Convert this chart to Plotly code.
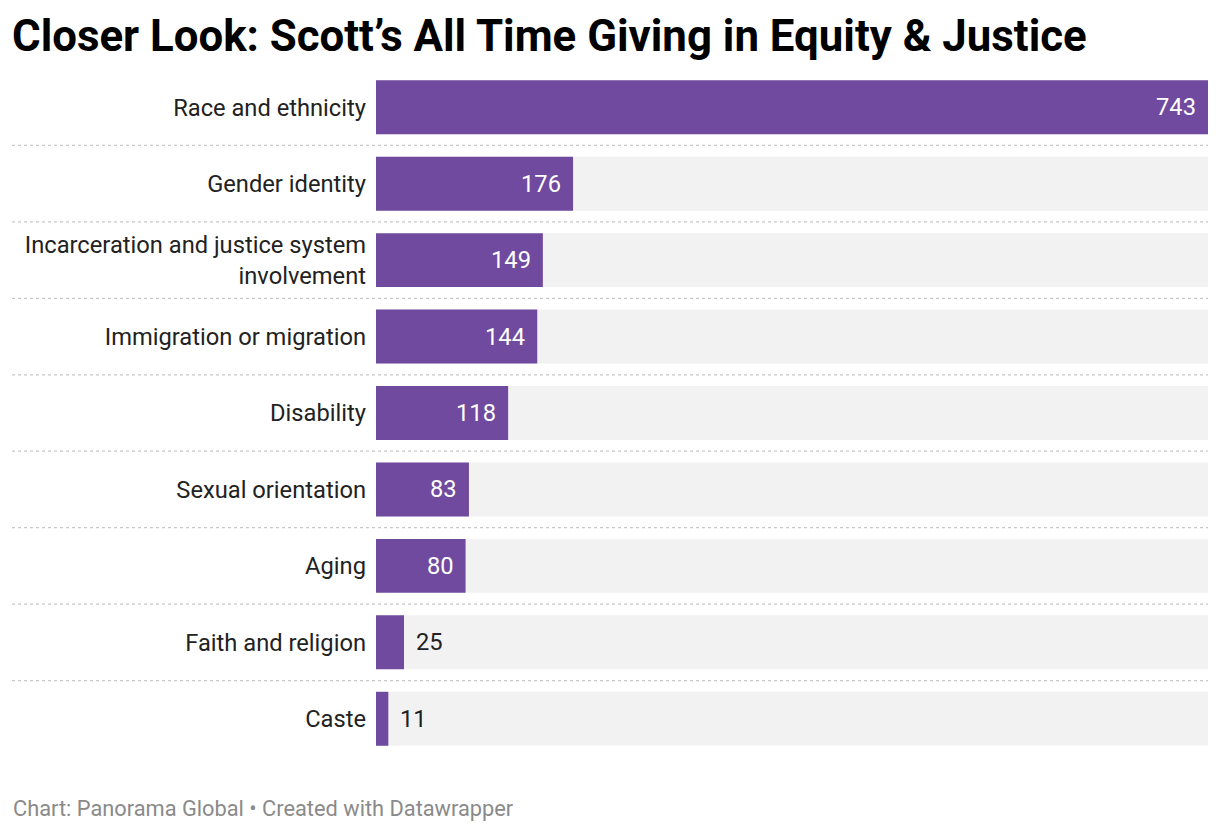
import plotly.graph_objects as go

categories = [
    "Race and ethnicity",
    "Gender identity",
    "Incarceration and justice system<br>involvement",
    "Immigration or migration",
    "Disability",
    "Sexual orientation",
    "Aging",
    "Faith and religion",
    "Caste",
]
values = [743, 176, 149, 144, 118, 83, 80, 25, 11]

# page has an 8px body margin, so the figure is drawn 8px smaller
OFF = 8
W, H = 1220 - OFF, 832 - OFF
BAR = "#6f4a9e"
BG = "#f2f2f2"
max_v = max(values)
inside_threshold = 50

fig = go.Figure()
fig.add_trace(go.Bar(
    y=categories, x=[max_v] * len(values), orientation="h",
    marker=dict(color=BG, line=dict(width=0)), width=0.706,
    hoverinfo="skip", showlegend=False,
))
fig.add_trace(go.Bar(
    y=categories, x=values, orientation="h",
    marker=dict(color=BAR, line=dict(width=0)), width=0.706,
    showlegend=False,
))

for c, v in zip(categories, values):
    inside = v >= inside_threshold
    fig.add_annotation(
        x=v, y=c, xref="x", yref="y", text=str(v), showarrow=False,
        xanchor="right" if inside else "left", xshift=-10 if inside else 10,
        font=dict(family="Roboto", size=23.7, color="white" if inside else "#222222"),
    )

l, r, t, b = 376 - OFF, 12, 61, 75
plot_w = W - l - r
plot_h = H - t - b
for i in range(len(categories) - 1):
    fig.add_shape(
        type="line", xref="paper", yref="y",
        x0=(12 - OFF - l) / plot_w, x1=1.0, y0=i + 0.5, y1=i + 0.5,
        line=dict(color="#c8c8c8", width=1.2, dash="dot"),
    )

fig.add_annotation(
    text="Closer Look: Scott’s All Time Giving in Equity &amp; Justice",
    xref="paper", yref="paper", x=(10 - OFF - l) / plot_w, y=1 + (t - (36 - OFF)) / plot_h,
    xanchor="left", yanchor="middle", showarrow=False,
    font=dict(family="Roboto", size=43.8, color="#000000", weight="bold"),
)
fig.add_annotation(
    text="Chart: Panorama Global • Created with Datawrapper",
    xref="paper", yref="paper", x=(11 - OFF - l) / plot_w, y=-((808 - OFF) - (H - b)) / plot_h,
    xanchor="left", yanchor="middle", showarrow=False,
    font=dict(family="Roboto", size=21.8, color="#8a8a8a"),
)

fig.update_layout(
    width=W, height=H, barmode="overlay",
    margin=dict(l=l, r=r, t=t, b=b),
    paper_bgcolor="white", plot_bgcolor="white",
    font=dict(family="Roboto", color="#222222"),
    xaxis=dict(range=[0, max_v], visible=False, fixedrange=True),
    yaxis=dict(
        autorange="reversed", showgrid=False, zeroline=False, showline=False,
        ticks="", ticklabelstandoff=9,
        tickfont=dict(family="Roboto", size=23.7, color="#222222"),
    ),
)

fig.write_html("out.html")
